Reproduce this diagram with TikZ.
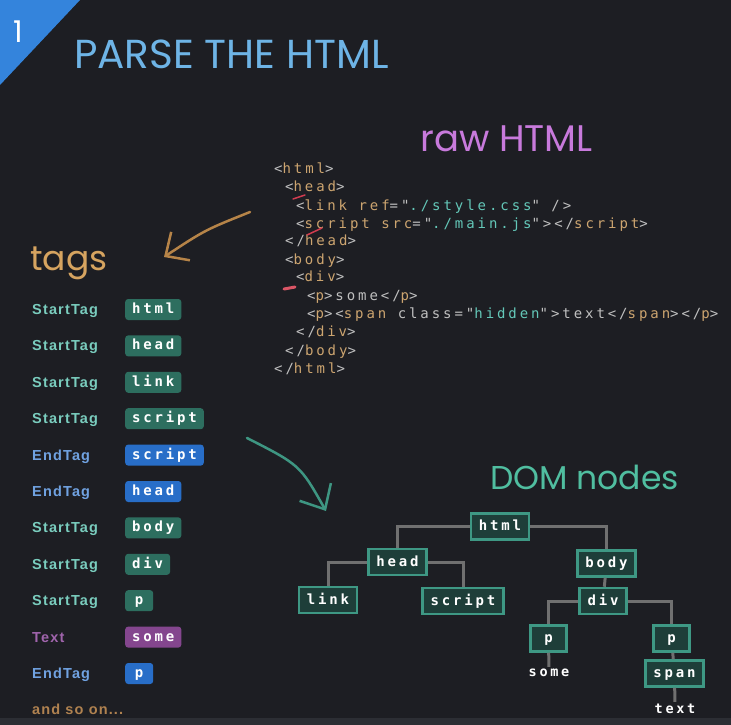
\documentclass[tikz,border=0pt]{standalone}
\usepackage{fontspec}
\setmainfont{Poppins}
\newfontfamily\codefont[LetterSpace=21]{DejaVu Sans Mono}
\newfontfamily\chipfont[LetterSpace=20]{DejaVu Sans Mono}
\newfontfamily\kindfont[LetterSpace=8]{Liberation Sans}
\usepackage{xcolor}
\usepackage{tikz}
\usetikzlibrary{arrows.meta, positioning}

\definecolor{bgcol}{RGB}{29,30,35}
\definecolor{bandcol}{RGB}{44,46,52}
\definecolor{stepblue}{RGB}{52,132,220}
\definecolor{titleblue}{RGB}{110,180,230}
\definecolor{rawpurple}{RGB}{200,122,220}
\definecolor{tagstan}{RGB}{214,164,96}
\definecolor{codegrey}{RGB}{192,192,192}
\definecolor{nametan}{RGB}{205,165,112}
\definecolor{valteal}{RGB}{100,200,185}
\definecolor{startcol}{RGB}{122,205,190}
\definecolor{endcol}{RGB}{112,162,225}
\definecolor{textcol}{RGB}{160,100,172}
\definecolor{moretan}{RGB}{176,130,80}
\definecolor{startfill}{RGB}{45,110,95}
\definecolor{endfill}{RGB}{40,110,200}
\definecolor{textfill}{RGB}{132,70,142}
\definecolor{domteal}{RGB}{80,190,160}
\definecolor{domfill}{RGB}{30,62,57}
\definecolor{domedge}{RGB}{62,152,132}
\definecolor{branchgrey}{RGB}{112,112,112}
\definecolor{arrowtan}{RGB}{182,132,72}
\definecolor{arrowteal}{RGB}{62,150,130}
\definecolor{scribble}{RGB}{210,60,80}

\newcommand{\tn}[1]{\textcolor{nametan}{#1}}
\newcommand{\av}[1]{\textcolor{valteal}{#1}}

\tikzstyle{heading} = [anchor=base west, inner sep=0pt, font=\fontsize{36}{40}\selectfont]
\tikzstyle{codeline} = [anchor=base west, inner sep=0pt, text=codegrey, font=\codefont\fontsize{14}{17}\selectfont]
\tikzstyle{kind} = [anchor=base west, inner sep=0pt, font=\kindfont\bfseries\fontsize{14.5}{17}\selectfont]
\tikzstyle{chip} = [anchor=west, rounded corners=3pt, inner xsep=7pt, minimum height=21pt, minimum width=28pt, text height=10pt, text depth=2pt, text=white, font=\chipfont\bfseries\fontsize{14}{16}\selectfont]
\tikzstyle{startchip} = [chip, fill=startfill]
\tikzstyle{endchip} = [chip, fill=endfill]
\tikzstyle{textchip} = [chip, fill=textfill]
\tikzstyle{dom} = [rectangle, draw=domedge, fill=domfill, line width=2.5pt, inner xsep=8pt, minimum height=26pt, minimum width=36pt, text height=10pt, text depth=2pt, text=white, font=\chipfont\bfseries\fontsize{14}{16}\selectfont]
\tikzstyle{domleaf} = [inner sep=2pt, text=white, font=\chipfont\bfseries\fontsize{13.5}{15}\selectfont]
\tikzstyle{branch} = [draw=branchgrey, line width=3pt]
\tikzstyle{sketch} = [draw, line width=2.5pt, line cap=round]

\begin{document}
\begin{tikzpicture}[x=1pt, y=-1pt]
    % Background
    \fill [bgcol] (0,0) rectangle (731,725);
    \useasboundingbox (0,0) rectangle (731,725);
    \fill [bandcol] (0,718) rectangle (731,725);
    \fill [stepblue] (0,0) -- (80,0) -- (0,85) -- cycle;

    % Headings
    \node [anchor=base, inner sep=0pt, text=white, font=\fontsize{30}{34}\selectfont] (step) at (18,43) {1};
    \node [heading, text=titleblue, font=\fontsize{40.5}{44}\selectfont] (title) at (74,69) {PARSE THE HTML};
    \node [heading, text=rawpurple, font=\fontsize{37}{40}\selectfont] (raw) at (420,151) {raw HTML};
    \node [heading, text=tagstan, font=\fontsize{34.5}{38}\selectfont] (tags) at (30,270) {tags};
    \node [heading, text=domteal, font=\fontsize{33}{36}\selectfont] (domtitle) at (490,489) {DOM nodes};

    % Raw HTML
    \node [codeline] (l1) at (274,173) {<\tn{html}>};
    \node [codeline] (l2) at (285,191.7) {<\tn{head}>};
    \node [codeline] (l3) at (296,210) {<\tn{link} \tn{ref}="\av{./style.css}" />};
    \node [codeline] (l4) at (296,228.3) {<\tn{script} \tn{src}="\av{./main.js}"></\tn{script}>};
    \node [codeline] (l5) at (285,245.7) {</\tn{head}>};
    \node [codeline] (l6) at (285,264) {<\tn{body}>};
    \node [codeline] (l7) at (296,281.7) {<\tn{div}>};
    \node [codeline] (l8) at (307,300) {<\tn{p}>some</\tn{p}>};
    \node [codeline] (l9) at (307,318.3) {<\tn{p}><\tn{span} class="\av{hidden}">text</\tn{span}></\tn{p}>};
    \node [codeline] (l10) at (296,336.7) {</\tn{div}>};
    \node [codeline] (l11) at (285,355) {</\tn{body}>};
    \node [codeline] (l12) at (274,373.3) {</\tn{html}>};

    % red marks on the code
    \path [sketch, scribble, line width=1.5pt] (293,199) -- (305,195);
    \path [sketch, scribble, line width=1.5pt] (307,235) -- (322,228);
    \path [sketch, scribble!80!pink, line width=3pt] (284,289) -- (295,287);

    % Tags
    \node [kind, text=startcol] (k1) at (32,314.5) {StartTag};
    \node [startchip] (c1) at (125,309.5) {html};
    \node [kind, text=startcol] (k2) at (32,350.9) {StartTag};
    \node [startchip] (c2) at (125,345.9) {head};
    \node [kind, text=startcol] (k3) at (32,387.3) {StartTag};
    \node [startchip] (c3) at (125,382.3) {link};
    \node [kind, text=startcol] (k4) at (32,423.7) {StartTag};
    \node [startchip] (c4) at (125,418.7) {script};
    \node [kind, text=endcol] (k5) at (32,460.1) {EndTag};
    \node [endchip] (c5) at (125,455.1) {script};
    \node [kind, text=endcol] (k6) at (32,496.5) {EndTag};
    \node [endchip] (c6) at (125,491.5) {head};
    \node [kind, text=startcol] (k7) at (32,532.9) {StartTag};
    \node [startchip] (c7) at (125,527.9) {body};
    \node [kind, text=startcol] (k8) at (32,569.3) {StartTag};
    \node [startchip] (c8) at (125,564.3) {div};
    \node [kind, text=startcol] (k9) at (32,605.7) {StartTag};
    \node [startchip] (c9) at (125,600.7) {p};
    \node [kind, text=textcol] (k10) at (32,642.1) {Text};
    \node [textchip] (c10) at (125,637.1) {some};
    \node [kind, text=endcol] (k11) at (32,678.5) {EndTag};
    \node [endchip] (c11) at (125,673.5) {p};
    \node [kind, text=moretan] (more) at (32,714.9) {and so on...};

    % DOM tree
    \node [dom] (domhtml) at (500,526.5) {html};
    \node [dom] (domhead) at (397.5,562) {head};
    \node [dom] (dombody) at (606.5,563.5) {body};
    \node [dom] (domlink) at (328,600) {link};
    \node [dom] (domscript) at (463,601) {script};
    \node [dom] (domdiv) at (603,601) {div};
    \node [dom] (dompa) at (548.5,638.5) {p};
    \node [dom] (dompb) at (671.5,638.5) {p};
    \node [dom] (domspan) at (674.5,673.5) {span};
    \node [domleaf] (domsome) at (549,673) {some};
    \node [domleaf] (domtext) at (675,709) {text};

    % Edges
    \path [branch] (domhtml.west) -| (domhead.north);
    \path [branch] (domhtml.east) -| (dombody.north);
    \path [branch] (domhead.west) -| (domlink.north);
    \path [branch] (domhead.east) -| (domscript.north);
    \path [branch] (dombody) -- (domdiv);
    \path [branch] (domdiv.west) -| (dompa.north);
    \path [branch] (domdiv.east) -| (dompb.north);
    \path [branch] (dompa) -- (domsome);
    \path [branch] (dompb) -- (domspan);
    \path [branch] (domspan) -- (domtext);

    % Arrows
    \coordinate (rawfrom) at (250,212);
    \coordinate (tagsto) at (164,257);
    \coordinate (listfrom) at (247,438);
    \coordinate (domto) at (326,511);
    \path [sketch, arrowtan, -{Straight Barb[length=18pt, width=34pt]}] (rawfrom) .. controls (205,230) .. (tagsto);
    \path [sketch, arrowteal, -{Straight Barb[length=20pt, width=36pt]}] (listfrom) .. controls (300,465) .. (domto);
\end{tikzpicture}
\end{document}
